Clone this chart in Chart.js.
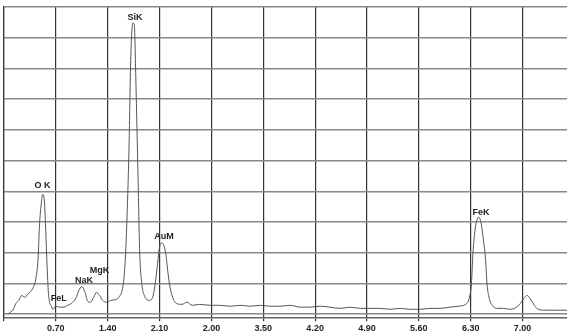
<!DOCTYPE html>
<html>
<head>
<meta charset="utf-8">
<script src="https://cdn.jsdelivr.net/npm/chart.js@4/dist/chart.umd.min.js"></script>
<style>
html,body{margin:0;padding:0;background:#fff;}
#wrap{width:572px;height:336px;}
</style>
</head>
<body>
<div id="wrap"><canvas id="c" width="572" height="336"></canvas></div>
<script>
// Energy (keV) and counts (grid units)
const energy = [0.05,0.08,0.12,0.16,0.20,0.24,0.28,0.32,0.36,0.40,0.43,0.46,0.48,0.51,0.52,0.54,0.56,0.58,0.60,0.62,0.64,0.66,0.70,0.75,0.81,0.86,0.91,0.97,1.01,1.05,1.09,1.13,1.17,1.21,1.25,1.29,1.33,1.39,1.44,1.51,1.56,1.60,1.63,1.66,1.69,1.71,1.74,1.76,1.78,1.81,1.83,1.86,1.90,1.96,2.01,2.05,2.08,2.10,2.13,2.16,2.19,2.21,2.24,2.28,2.33,2.40,2.47,2.54,2.64,2.78,2.92,3.05,3.19,3.32,3.46,3.59,3.73,3.86,4.00,4.13,4.27,4.40,4.54,4.67,4.81,4.94,5.08,5.21,5.35,5.48,5.62,5.75,5.89,6.02,6.13,6.23,6.28,6.31,6.33,6.36,6.39,6.41,6.44,6.47,6.50,6.52,6.55,6.59,6.66,6.74,6.83,6.92,6.97,7.02,7.06,7.10,7.16,7.21,7.31,7.44,7.60];
const counts = [0.00,0.06,0.13,0.35,0.45,0.61,0.55,0.65,0.74,0.90,1.16,1.81,2.94,3.74,3.90,3.81,2.94,1.65,0.68,0.35,0.26,0.16,0.26,0.23,0.23,0.29,0.35,0.52,0.77,0.90,0.74,0.42,0.39,0.55,0.71,0.61,0.45,0.39,0.45,0.48,0.58,0.84,1.48,3.10,5.68,8.26,9.48,9.39,7.61,4.39,2.13,1.00,0.58,0.45,0.58,1.16,1.81,2.19,2.32,2.23,1.87,1.42,0.90,0.52,0.35,0.32,0.39,0.29,0.32,0.29,0.29,0.26,0.29,0.26,0.29,0.26,0.26,0.29,0.23,0.23,0.26,0.23,0.19,0.23,0.19,0.19,0.19,0.16,0.19,0.16,0.16,0.19,0.19,0.23,0.26,0.32,0.52,1.00,1.97,2.77,3.10,3.16,2.97,2.45,1.81,1.00,0.52,0.29,0.19,0.19,0.16,0.23,0.35,0.52,0.61,0.52,0.29,0.16,0.13,0.13,0.13];
const tickValues = [0,0.7,1.4,2.1,2.8,3.5,4.2,4.9,5.6,6.3,7.0];
const tickLabels = ["","0.70","1.40","2.10","2.00","3.50","4.20","4.90","5.60","6.30","7.00"];
const peakNames = ["O K","FeL","NaK","MgK","SiK","AuM","FeK"];
const peakEnergy = [0.52,0.74,1.08,1.29,1.77,2.16,6.44];
const peakLabelLevel = [4.19,0.52,1.10,1.42,9.65,2.52,3.32];

const labelPlugin = {
  id:'peakLabels',
  afterDatasetsDraw(chart){
    const ctx = chart.ctx, xs = chart.scales.x, ys = chart.scales.y;
    ctx.save();
    ctx.font = 'bold 9px "Liberation Sans", Arial, sans-serif';
    ctx.fillStyle = '#222';
    ctx.textAlign = 'center';
    ctx.textBaseline = 'middle';
    peakNames.forEach((n,i)=>{
      ctx.fillText(n, xs.getPixelForValue(peakEnergy[i]), ys.getPixelForValue(peakLabelLevel[i]));
    });
    ctx.restore();
  }
};

new Chart(document.getElementById('c'), {
  type:'line',
  data:{
    datasets:[{
      data: energy.map((e,i)=>({x:e,y:counts[i]})),
      borderColor:'#555',
      borderWidth:1,
      pointRadius:0,
      cubicInterpolationMode:'monotone',
      fill:false
    }]
  },
  options:{
    responsive:false,
    animation:false,
    devicePixelRatio:1,
    layout:{padding:{left:4,right:5,top:7,bottom:0}},
    plugins:{legend:{display:false},tooltip:{enabled:false}},
    scales:{
      x:{
        type:'linear',
        min:0,
        max:7.6,
        afterBuildTicks(axis){ axis.ticks = tickValues.map(v=>({value:v})); },
        ticks:{
          autoSkip:false,
          maxRotation:0,
          padding:2,
          color:'#222',
          font:{family:'"Liberation Sans", Arial, sans-serif',size:9,weight:'bold'},
          callback(v){ const i = tickValues.findIndex(t=>Math.abs(t-v)<1e-6); return i>=0 ? tickLabels[i] : ''; }
        },
        grid:{color:'#333',lineWidth:1.2,tickLength:3,drawTicks:true},
        border:{display:true,color:'#666',width:1.5}
      },
      y:{
        min:-0.13,
        max:10,
        afterBuildTicks(axis){ const t=[]; for(let v=0; v<=10; v++) t.push({value:v}); axis.ticks=t; },
        ticks:{display:false},
        grid:{color:'#888',lineWidth:1.5,drawTicks:false},
        border:{display:true,color:'#333',width:1.2}
      }
    }
  },
  plugins:[labelPlugin]
});
</script>
</body>
</html>
